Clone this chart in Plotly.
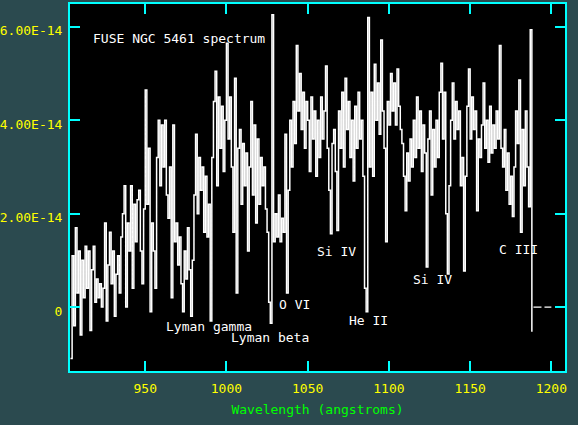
import plotly.graph_objects as go

# Wavelength grid (angstroms), one sample per angstrom
wavelength = list(range(904, 1189))

# Flux in units of 1e-14
flux_e14 = [
    -1.1, 1.1, -0.4, 1.7, 0.3, 1.2, -0.6, 1.0, 0.2, 1.3,      # 904-913
    0.4, 1.2, -0.5, 0.8, 1.3, 0.1, 0.6, 0.2, 0.5, 0.0,        # 914-923
    0.4, 1.8, -0.3, 0.9, 1.6, 0.5, 1.2, -0.2, 0.7, 1.1,       # 924-933
    0.3, 1.5, 2.0, 2.6, 0.0, 1.8, 1.2, 2.6, 0.4, 2.2,         # 934-943
    1.4, 2.3, 2.5, 1.2, 0.5, 2.1, 4.65, 2.2, 3.4, -0.1,       # 944-953
    1.8, 1.2, 0.4, 3.2, 4.0, 2.6, 3.9, 3.0, 4.0, 2.4,         # 954-963
    1.9, 3.0, 0.2, 3.9, 1.4, 1.8, 0.9, 1.5, 0.5, -0.1,        # 964-973
    1.2, 0.6, 1.7, 0.8, -0.2, 1.0, 2.4, 3.7, 2.0, 3.2,        # 974-983
    2.5, 3.0, 1.6, 2.8, 1.5, 2.2, -0.3, 3.2, 4.4, 5.05,       # 984-993
    2.6, 4.5, 3.4, 4.3, 2.9, 4.0, 5.65, 3.6, 4.5, 3.0,        # 994-1003
    1.6, 4.9, 0.3, 3.4, 3.8, 2.2, 3.5, 2.6, 3.3, 1.2,         # 1004-1013
    3.0, 4.4, 2.4, 3.9, 1.8, 3.6, 2.2, 3.2, 2.6, 3.0,         # 1014-1023
    2.1, 1.6, 0.1, -0.35, 6.26, 1.4, 2.0, 1.5, 2.4, 1.4,      # 1024-1033
    1.9, 1.6, 3.7, 0.3, 2.5, 4.0, 3.0, 4.4, 3.5, 5.6,         # 1034-1043
    4.2, 5.0, 3.8, 4.6, 3.4, 4.4, 4.0, 2.9, 4.5, 3.6,         # 1044-1053
    4.2, 2.8, 4.0, 3.2, 4.5, 3.6, 4.2, 5.16, 3.4, 2.5,        # 1054-1063
    1.57, 3.5, 3.8, 2.9, 1.64, 4.2, 3.4, 4.6, 3.0, 4.9,       # 1064-1073
    3.8, 4.4, 3.2, 4.0, 2.7, 4.3, 3.4, 4.6, 3.6, 4.0,         # 1074-1083
    2.8, 0.4, -0.1, 6.2, 3.0, 4.6, 2.8, 5.2, 4.0, 4.8,        # 1084-1093
    3.7, 5.72, 4.2, 3.4, 1.4, 4.4, 3.9, 5.0, 4.2, 4.8,        # 1094-1103
    3.9, 5.1, 4.3, 3.8, 3.5, 2.8, 2.06, 3.3, 2.7, 3.6,        # 1104-1113
    3.0, 4.0, 3.2, 4.5, 3.4, 4.2, 2.9, 3.9, 3.3, 0.86,        # 1114-1123
    3.6, 4.2, 2.4, 3.8, 3.0, 4.0, 3.2, 4.6, 5.22, 3.6,        # 1124-1133
    4.6, 2.0, 0.71, 2.6, 4.0, 4.8, 3.6, 4.4, 3.8, 4.2,        # 1134-1143
    2.6, 3.2, 0.77, 2.8, 4.3, 5.1, 3.6, 4.5, 3.8, 4.2,        # 1144-1153
    2.06, 3.6, 3.2, 3.9, 4.8, 3.4, 4.0, 3.1, 4.3, 3.3,        # 1154-1163
    3.9, 3.4, 4.2, 3.6, 5.6, 3.4, 3.0, 3.8, 2.5, 3.3,         # 1164-1173
    2.2, 2.8, 1.94, 3.0, 4.2, 3.5, 4.86, 1.6, 3.8, 2.6,       # 1174-1183
    4.2, 3.0, 2.15, 5.94, -0.53,                              # 1184-1188
]
assert len(flux_e14) == len(wavelength)
flux = [v * 1e-14 for v in flux_e14]

# Zero-filled tail beyond the data (drawn dashed in the reference)
tail_wavelength = [1189, 1200]
tail_flux = [0.0, 0.0]

# Axis ticks
x_tickvals = [950, 1000, 1050, 1100, 1150, 1200]
y_tickvals = [0, 2e-14, 4e-14, 6e-14]
y_ticktext = ["0", "2.00E-14", "4.00E-14", "6.00E-14"]

# Line labels: (text, wavelength, flux in 1e-14)
labels = [
    ("FUSE NGC 5461 spectrum", 916.7, 5.76),
    ("Lyman gamma", 961.7, -0.41),
    ("Lyman beta", 1001.8, -0.645),
    ("O VI", 1031.4, 0.065),
    ("Si IV", 1054.7, 1.2),
    ("He II", 1074.0, -0.28),
    ("Si IV", 1113.3, 0.58),
    ("C III", 1166.5, 1.23),
]

MONO = "DejaVu Sans Mono"
CYAN = "#00ffff"
YELLOW = "#ffff00"
BG = "#2b4a4f"

fig = go.Figure()
fig.add_trace(go.Scatter(
    x=wavelength, y=flux, mode="lines",
    line=dict(color="white", width=1.5, shape="hv"),
    hoverinfo="skip", showlegend=False,
))
fig.add_trace(go.Scatter(
    x=tail_wavelength, y=tail_flux, mode="lines",
    line=dict(color="white", width=1.2, dash="8px,3px"),
    hoverinfo="skip", showlegend=False,
))

for text, wx, fy in labels:
    fig.add_annotation(
        x=wx, y=fy * 1e-14, xref="x", yref="y", text=text,
        showarrow=False, xanchor="left", yanchor="middle",
        font=dict(family=MONO, size=13, color="white"),
    )

fig.update_layout(
    width=578, height=425,
    margin=dict(l=70, r=13, t=4, b=54),
    paper_bgcolor=BG,
    plot_bgcolor="black",
    showlegend=False,
    font=dict(family=MONO, size=13, color=YELLOW),
)
fig.update_xaxes(
    range=[903.7, 1208.4],
    tickvals=x_tickvals,
    ticks="inside", ticklen=10, tickwidth=2, tickcolor=CYAN,
    showline=True, linecolor=CYAN, linewidth=2, mirror="ticks",
    showgrid=False, zeroline=False, automargin=False,
    tickfont=dict(family=MONO, size=13, color=YELLOW),
    ticklabelstandoff=4,
    title=dict(text="Wavelength (angstroms)",
               font=dict(family=MONO, size=13, color="#00ff00"),
               standoff=10),
)
fig.update_yaxes(
    range=[-1.37e-14, 6.49e-14],
    tickvals=y_tickvals, ticktext=y_ticktext,
    ticks="inside", ticklen=10, tickwidth=2, tickcolor=CYAN,
    showline=True, linecolor=CYAN, linewidth=2, mirror="ticks",
    showgrid=False, zeroline=False, automargin=False,
    tickfont=dict(family=MONO, size=13, color=YELLOW),
    ticklabelstandoff=3, ticklabelshift=4,
)

fig.write_html(
    "out.html",
    config={"displayModeBar": False},
    post_script="document.body.style.margin='0';document.body.style.background='" + BG + "';",
)
